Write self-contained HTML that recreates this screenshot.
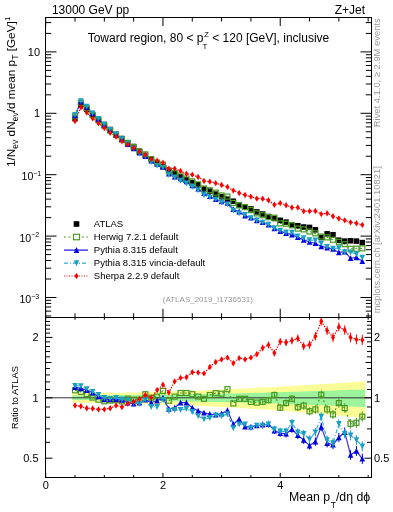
<!DOCTYPE html><html><head><meta charset="utf-8"><style>svg{will-change:transform} html,body{margin:0;padding:0;background:#fff;width:393px;height:512px;overflow:hidden;position:relative}</style></head><body><svg width="393" height="512" viewBox="0 0 393 512" style="position:absolute;left:0;top:0">
<rect width="393" height="512" fill="#fff"/>
<polygon fill="#fdfd98" points="72.08,393.27 77.95,393.27 77.95,393.22 83.81,393.22 83.81,393.17 89.67,393.17 89.67,393.10 95.54,393.10 95.54,393.03 101.40,393.03 101.40,392.94 107.26,392.94 107.26,392.85 113.12,392.85 113.12,392.75 118.99,392.75 118.99,392.64 124.85,392.64 124.85,392.53 130.71,392.53 130.71,392.40 136.58,392.40 136.58,392.27 142.44,392.27 142.44,392.12 148.30,392.12 148.30,391.97 154.17,391.97 154.17,391.81 160.03,391.81 160.03,391.64 165.89,391.64 165.89,391.47 171.75,391.47 171.75,391.28 177.62,391.28 177.62,391.09 183.48,391.09 183.48,390.89 189.34,390.89 189.34,390.68 195.21,390.68 195.21,390.46 201.07,390.46 201.07,390.24 206.93,390.24 206.93,390.01 212.80,390.01 212.80,389.77 218.66,389.77 218.66,389.52 224.52,389.52 224.52,389.26 230.38,389.26 230.38,389.00 236.25,389.00 236.25,388.73 242.11,388.73 242.11,388.45 247.97,388.45 247.97,388.16 253.84,388.16 253.84,387.87 259.70,387.87 259.70,387.57 265.56,387.57 265.56,387.26 271.43,387.26 271.43,386.95 277.29,386.95 277.29,386.63 283.15,386.63 283.15,386.30 289.01,386.30 289.01,385.96 294.88,385.96 294.88,385.62 300.74,385.62 300.74,385.27 306.60,385.27 306.60,384.92 312.47,384.92 312.47,384.56 318.33,384.56 318.33,384.19 324.19,384.19 324.19,383.81 330.06,383.81 330.06,383.43 335.92,383.43 335.92,383.05 341.78,383.05 341.78,382.65 347.64,382.65 347.64,382.25 353.51,382.25 353.51,381.85 359.37,381.85 359.37,381.44 365.23,381.44 365.23,417.96 359.37,417.96 359.37,417.34 353.51,417.34 353.51,416.74 347.64,416.74 347.64,416.15 341.78,416.15 341.78,415.57 335.92,415.57 335.92,415.01 330.06,415.01 330.06,414.47 324.19,414.47 324.19,413.94 318.33,413.94 318.33,413.42 312.47,413.42 312.47,412.92 306.60,412.92 306.60,412.44 300.74,412.44 300.74,411.96 294.88,411.96 294.88,411.50 289.01,411.50 289.01,411.05 283.15,411.05 283.15,410.62 277.29,410.62 277.29,410.20 271.43,410.20 271.43,409.79 265.56,409.79 265.56,409.39 259.70,409.39 259.70,409.01 253.84,409.01 253.84,408.64 247.97,408.64 247.97,408.28 242.11,408.28 242.11,407.93 236.25,407.93 236.25,407.59 230.38,407.59 230.38,407.27 224.52,407.27 224.52,406.95 218.66,406.95 218.66,406.65 212.80,406.65 212.80,406.36 206.93,406.36 206.93,406.08 201.07,406.08 201.07,405.81 195.21,405.81 195.21,405.55 189.34,405.55 189.34,405.31 183.48,405.31 183.48,405.07 177.62,405.07 177.62,404.84 171.75,404.84 171.75,404.63 165.89,404.63 165.89,404.42 160.03,404.42 160.03,404.23 154.17,404.23 154.17,404.05 148.30,404.05 148.30,403.87 142.44,403.87 142.44,403.71 136.58,403.71 136.58,403.56 130.71,403.56 130.71,403.41 124.85,403.41 124.85,403.28 118.99,403.28 118.99,403.16 113.12,403.16 113.12,403.04 107.26,403.04 107.26,402.94 101.40,402.94 101.40,402.85 95.54,402.85 95.54,402.77 89.67,402.77 89.67,402.69 83.81,402.69 83.81,402.63 77.95,402.63 77.95,402.58 72.08,402.58"/>
<polygon fill="#9cf49c" points="72.08,395.59 77.95,395.59 77.95,395.57 83.81,395.57 83.81,395.54 89.67,395.54 89.67,395.51 95.54,395.51 95.54,395.47 101.40,395.47 101.40,395.43 107.26,395.43 107.26,395.38 113.12,395.38 113.12,395.33 118.99,395.33 118.99,395.28 124.85,395.28 124.85,395.22 130.71,395.22 130.71,395.15 136.58,395.15 136.58,395.08 142.44,395.08 142.44,395.01 148.30,395.01 148.30,394.94 154.17,394.94 154.17,394.85 160.03,394.85 160.03,394.77 165.89,394.77 165.89,394.68 171.75,394.68 171.75,394.59 177.62,394.59 177.62,394.49 183.48,394.49 183.48,394.38 189.34,394.38 189.34,394.28 195.21,394.28 195.21,394.17 201.07,394.17 201.07,394.05 206.93,394.05 206.93,393.93 212.80,393.93 212.80,393.81 218.66,393.81 218.66,393.68 224.52,393.68 224.52,393.55 230.38,393.55 230.38,393.41 236.25,393.41 236.25,393.27 242.11,393.27 242.11,393.13 247.97,393.13 247.97,392.98 253.84,392.98 253.84,392.83 259.70,392.83 259.70,392.67 265.56,392.67 265.56,392.51 271.43,392.51 271.43,392.35 277.29,392.35 277.29,392.18 283.15,392.18 283.15,392.01 289.01,392.01 289.01,391.83 294.88,391.83 294.88,391.65 300.74,391.65 300.74,391.47 306.60,391.47 306.60,391.28 312.47,391.28 312.47,391.09 318.33,391.09 318.33,390.90 324.19,390.90 324.19,390.70 330.06,390.70 330.06,390.50 335.92,390.50 335.92,390.29 341.78,390.29 341.78,390.08 347.64,390.08 347.64,389.87 353.51,389.87 353.51,389.65 359.37,389.65 359.37,389.43 365.23,389.43 365.23,407.06 359.37,407.06 359.37,406.79 353.51,406.79 353.51,406.53 347.64,406.53 347.64,406.27 341.78,406.27 341.78,406.02 335.92,406.02 335.92,405.77 330.06,405.77 330.06,405.53 324.19,405.53 324.19,405.30 318.33,405.30 318.33,405.07 312.47,405.07 312.47,404.84 306.60,404.84 306.60,404.63 300.74,404.63 300.74,404.41 294.88,404.41 294.88,404.20 289.01,404.20 289.01,404.00 283.15,404.00 283.15,403.81 277.29,403.81 277.29,403.61 271.43,403.61 271.43,403.43 265.56,403.43 265.56,403.25 259.70,403.25 259.70,403.07 253.84,403.07 253.84,402.90 247.97,402.90 247.97,402.73 242.11,402.73 242.11,402.57 236.25,402.57 236.25,402.42 230.38,402.42 230.38,402.27 224.52,402.27 224.52,402.12 218.66,402.12 218.66,401.98 212.80,401.98 212.80,401.85 206.93,401.85 206.93,401.72 201.07,401.72 201.07,401.59 195.21,401.59 195.21,401.47 189.34,401.47 189.34,401.36 183.48,401.36 183.48,401.24 177.62,401.24 177.62,401.14 171.75,401.14 171.75,401.04 165.89,401.04 165.89,400.94 160.03,400.94 160.03,400.85 154.17,400.85 154.17,400.76 148.30,400.76 148.30,400.68 142.44,400.68 142.44,400.60 136.58,400.60 136.58,400.53 130.71,400.53 130.71,400.46 124.85,400.46 124.85,400.40 118.99,400.40 118.99,400.34 113.12,400.34 113.12,400.29 107.26,400.29 107.26,400.24 101.40,400.24 101.40,400.19 95.54,400.19 95.54,400.16 89.67,400.16 89.67,400.12 83.81,400.12 83.81,400.09 77.95,400.09 77.95,400.06 72.08,400.06"/>
<line x1="45.5" y1="397.8" x2="371.5" y2="397.8" stroke="#333" stroke-width="1"/>
<defs><clipPath id="cm"><rect x="45.5" y="17.5" width="326.0" height="299.8"/></clipPath>
<clipPath id="cr"><rect x="45.5" y="317.2" width="326.0" height="160.2"/></clipPath></defs>
<g clip-path="url(#cr)">
<polyline fill="none" stroke="#4a9a22" stroke-width="1.2" stroke-dasharray="2,2.5" points="75.02,390.30 80.88,391.80 86.74,394.10 92.60,397.60 98.47,399.70 104.33,401.30 110.19,400.60 116.06,400.20 121.92,401.30 127.78,398.70 133.65,399.70 139.51,399.70 145.37,394.20 151.23,397.70 157.10,396.60 162.96,390.90 168.82,400.70 174.69,396.60 180.55,393.00 186.41,393.00 192.28,394.20 198.14,396.60 204.00,398.80 209.86,395.00 215.73,393.20 221.59,393.70 227.45,389.20 233.32,403.40 239.18,398.80 245.04,398.80 250.91,401.90 256.77,402.60 262.63,401.90 268.49,400.10 274.36,395.00 280.22,407.70 286.08,403.10 291.95,398.80 297.81,407.20 303.67,405.60 309.54,411.30 315.40,409.40 321.26,394.70 327.12,409.40 332.99,414.40 338.85,403.10 344.71,408.10 350.58,423.80 356.44,422.80 362.30,416.60"/>
<rect x="72.52" y="387.80" width="5" height="5" fill="none" stroke="#4a9a22" stroke-width="1.2"/>
<rect x="78.38" y="389.30" width="5" height="5" fill="none" stroke="#4a9a22" stroke-width="1.2"/>
<rect x="84.24" y="391.60" width="5" height="5" fill="none" stroke="#4a9a22" stroke-width="1.2"/>
<rect x="90.10" y="395.10" width="5" height="5" fill="none" stroke="#4a9a22" stroke-width="1.2"/>
<rect x="95.97" y="397.20" width="5" height="5" fill="none" stroke="#4a9a22" stroke-width="1.2"/>
<rect x="101.83" y="398.80" width="5" height="5" fill="none" stroke="#4a9a22" stroke-width="1.2"/>
<rect x="107.69" y="398.10" width="5" height="5" fill="none" stroke="#4a9a22" stroke-width="1.2"/>
<rect x="113.56" y="397.70" width="5" height="5" fill="none" stroke="#4a9a22" stroke-width="1.2"/>
<rect x="119.42" y="398.80" width="5" height="5" fill="none" stroke="#4a9a22" stroke-width="1.2"/>
<rect x="125.28" y="396.20" width="5" height="5" fill="none" stroke="#4a9a22" stroke-width="1.2"/>
<rect x="131.15" y="397.20" width="5" height="5" fill="none" stroke="#4a9a22" stroke-width="1.2"/>
<rect x="137.01" y="397.20" width="5" height="5" fill="none" stroke="#4a9a22" stroke-width="1.2"/>
<rect x="142.87" y="391.70" width="5" height="5" fill="none" stroke="#4a9a22" stroke-width="1.2"/>
<rect x="148.73" y="395.20" width="5" height="5" fill="none" stroke="#4a9a22" stroke-width="1.2"/>
<rect x="154.60" y="394.10" width="5" height="5" fill="none" stroke="#4a9a22" stroke-width="1.2"/>
<rect x="160.46" y="388.40" width="5" height="5" fill="none" stroke="#4a9a22" stroke-width="1.2"/>
<rect x="166.32" y="398.20" width="5" height="5" fill="none" stroke="#4a9a22" stroke-width="1.2"/>
<rect x="172.19" y="394.10" width="5" height="5" fill="none" stroke="#4a9a22" stroke-width="1.2"/>
<rect x="178.05" y="390.50" width="5" height="5" fill="none" stroke="#4a9a22" stroke-width="1.2"/>
<rect x="183.91" y="390.50" width="5" height="5" fill="none" stroke="#4a9a22" stroke-width="1.2"/>
<rect x="189.78" y="391.70" width="5" height="5" fill="none" stroke="#4a9a22" stroke-width="1.2"/>
<rect x="195.64" y="394.10" width="5" height="5" fill="none" stroke="#4a9a22" stroke-width="1.2"/>
<rect x="201.50" y="396.30" width="5" height="5" fill="none" stroke="#4a9a22" stroke-width="1.2"/>
<rect x="207.36" y="392.50" width="5" height="5" fill="none" stroke="#4a9a22" stroke-width="1.2"/>
<rect x="213.23" y="390.70" width="5" height="5" fill="none" stroke="#4a9a22" stroke-width="1.2"/>
<rect x="219.09" y="391.20" width="5" height="5" fill="none" stroke="#4a9a22" stroke-width="1.2"/>
<rect x="224.95" y="386.70" width="5" height="5" fill="none" stroke="#4a9a22" stroke-width="1.2"/>
<rect x="230.82" y="400.90" width="5" height="5" fill="none" stroke="#4a9a22" stroke-width="1.2"/>
<rect x="236.68" y="396.30" width="5" height="5" fill="none" stroke="#4a9a22" stroke-width="1.2"/>
<rect x="242.54" y="396.30" width="5" height="5" fill="none" stroke="#4a9a22" stroke-width="1.2"/>
<rect x="248.41" y="399.40" width="5" height="5" fill="none" stroke="#4a9a22" stroke-width="1.2"/>
<rect x="254.27" y="400.10" width="5" height="5" fill="none" stroke="#4a9a22" stroke-width="1.2"/>
<line x1="262.63" y1="398.66" x2="262.63" y2="405.14" stroke="#4a9a22" stroke-width="1"/>
<rect x="260.13" y="399.40" width="5" height="5" fill="none" stroke="#4a9a22" stroke-width="1.2"/>
<line x1="268.49" y1="396.77" x2="268.49" y2="403.43" stroke="#4a9a22" stroke-width="1"/>
<rect x="265.99" y="397.60" width="5" height="5" fill="none" stroke="#4a9a22" stroke-width="1.2"/>
<line x1="274.36" y1="391.57" x2="274.36" y2="398.43" stroke="#4a9a22" stroke-width="1"/>
<rect x="271.86" y="392.50" width="5" height="5" fill="none" stroke="#4a9a22" stroke-width="1.2"/>
<line x1="280.22" y1="404.18" x2="280.22" y2="411.22" stroke="#4a9a22" stroke-width="1"/>
<rect x="277.72" y="405.20" width="5" height="5" fill="none" stroke="#4a9a22" stroke-width="1.2"/>
<line x1="286.08" y1="399.48" x2="286.08" y2="406.72" stroke="#4a9a22" stroke-width="1"/>
<rect x="283.58" y="400.60" width="5" height="5" fill="none" stroke="#4a9a22" stroke-width="1.2"/>
<line x1="291.95" y1="395.08" x2="291.95" y2="402.52" stroke="#4a9a22" stroke-width="1"/>
<rect x="289.45" y="396.30" width="5" height="5" fill="none" stroke="#4a9a22" stroke-width="1.2"/>
<line x1="297.81" y1="403.38" x2="297.81" y2="411.02" stroke="#4a9a22" stroke-width="1"/>
<rect x="295.31" y="404.70" width="5" height="5" fill="none" stroke="#4a9a22" stroke-width="1.2"/>
<line x1="303.67" y1="401.68" x2="303.67" y2="409.52" stroke="#4a9a22" stroke-width="1"/>
<rect x="301.17" y="403.10" width="5" height="5" fill="none" stroke="#4a9a22" stroke-width="1.2"/>
<line x1="309.54" y1="407.27" x2="309.54" y2="415.33" stroke="#4a9a22" stroke-width="1"/>
<rect x="307.04" y="408.80" width="5" height="5" fill="none" stroke="#4a9a22" stroke-width="1.2"/>
<line x1="315.40" y1="405.26" x2="315.40" y2="413.54" stroke="#4a9a22" stroke-width="1"/>
<rect x="312.90" y="406.90" width="5" height="5" fill="none" stroke="#4a9a22" stroke-width="1.2"/>
<line x1="321.26" y1="390.45" x2="321.26" y2="398.95" stroke="#4a9a22" stroke-width="1"/>
<rect x="318.76" y="392.20" width="5" height="5" fill="none" stroke="#4a9a22" stroke-width="1.2"/>
<line x1="327.12" y1="405.04" x2="327.12" y2="413.76" stroke="#4a9a22" stroke-width="1"/>
<rect x="324.62" y="406.90" width="5" height="5" fill="none" stroke="#4a9a22" stroke-width="1.2"/>
<line x1="332.99" y1="409.92" x2="332.99" y2="418.88" stroke="#4a9a22" stroke-width="1"/>
<rect x="330.49" y="411.90" width="5" height="5" fill="none" stroke="#4a9a22" stroke-width="1.2"/>
<line x1="338.85" y1="398.50" x2="338.85" y2="407.70" stroke="#4a9a22" stroke-width="1"/>
<rect x="336.35" y="400.60" width="5" height="5" fill="none" stroke="#4a9a22" stroke-width="1.2"/>
<line x1="344.71" y1="403.38" x2="344.71" y2="412.82" stroke="#4a9a22" stroke-width="1"/>
<rect x="342.21" y="405.60" width="5" height="5" fill="none" stroke="#4a9a22" stroke-width="1.2"/>
<line x1="350.58" y1="418.96" x2="350.58" y2="428.64" stroke="#4a9a22" stroke-width="1"/>
<rect x="348.08" y="421.30" width="5" height="5" fill="none" stroke="#4a9a22" stroke-width="1.2"/>
<line x1="356.44" y1="417.83" x2="356.44" y2="427.77" stroke="#4a9a22" stroke-width="1"/>
<rect x="353.94" y="420.30" width="5" height="5" fill="none" stroke="#4a9a22" stroke-width="1.2"/>
<line x1="362.30" y1="411.50" x2="362.30" y2="421.70" stroke="#4a9a22" stroke-width="1"/>
<rect x="359.80" y="414.10" width="5" height="5" fill="none" stroke="#4a9a22" stroke-width="1.2"/>
<polyline fill="none" stroke="#3333ee" stroke-width="1.2"  points="75.02,387.20 80.88,388.40 86.74,390.30 92.60,392.60 98.47,396.40 104.33,399.40 110.19,399.40 116.06,399.20 121.92,400.00 127.78,402.70 133.65,403.80 139.51,402.70 145.37,399.70 151.23,402.70 157.10,400.70 162.96,397.70 168.82,408.90 174.69,407.80 180.55,402.70 186.41,402.70 192.28,407.80 198.14,410.90 204.00,412.80 209.86,414.10 215.73,414.60 221.59,413.60 227.45,410.30 233.32,424.20 239.18,419.20 245.04,426.80 250.91,426.80 256.77,425.50 262.63,424.80 268.49,424.20 274.36,430.60 280.22,433.10 286.08,433.80 291.95,429.10 297.81,435.30 303.67,440.00 309.54,445.60 315.40,441.60 321.26,426.90 327.12,443.10 332.99,444.70 338.85,437.50 344.71,432.20 350.58,455.00 356.44,450.90 362.30,458.80"/>
<polygon fill="#0000e0" points="75.02,384.10 72.22,390.00 77.81,390.00"/>
<polygon fill="#0000e0" points="80.88,385.30 78.08,391.20 83.68,391.20"/>
<polygon fill="#0000e0" points="86.74,387.20 83.94,393.10 89.54,393.10"/>
<polygon fill="#0000e0" points="92.60,389.50 89.80,395.40 95.40,395.40"/>
<polygon fill="#0000e0" points="98.47,393.30 95.67,399.20 101.27,399.20"/>
<polygon fill="#0000e0" points="104.33,396.30 101.53,402.20 107.13,402.20"/>
<polygon fill="#0000e0" points="110.19,396.30 107.39,402.20 112.99,402.20"/>
<polygon fill="#0000e0" points="116.06,396.10 113.26,402.00 118.86,402.00"/>
<polygon fill="#0000e0" points="121.92,396.90 119.12,402.80 124.72,402.80"/>
<polygon fill="#0000e0" points="127.78,399.60 124.98,405.50 130.58,405.50"/>
<polygon fill="#0000e0" points="133.65,400.70 130.84,406.60 136.45,406.60"/>
<polygon fill="#0000e0" points="139.51,399.60 136.71,405.50 142.31,405.50"/>
<polygon fill="#0000e0" points="145.37,396.60 142.57,402.50 148.17,402.50"/>
<polygon fill="#0000e0" points="151.23,399.60 148.43,405.50 154.03,405.50"/>
<polygon fill="#0000e0" points="157.10,397.60 154.30,403.50 159.90,403.50"/>
<polygon fill="#0000e0" points="162.96,394.60 160.16,400.50 165.76,400.50"/>
<polygon fill="#0000e0" points="168.82,405.80 166.02,411.70 171.62,411.70"/>
<polygon fill="#0000e0" points="174.69,404.70 171.89,410.60 177.49,410.60"/>
<polygon fill="#0000e0" points="180.55,399.60 177.75,405.50 183.35,405.50"/>
<polygon fill="#0000e0" points="186.41,399.60 183.61,405.50 189.21,405.50"/>
<polygon fill="#0000e0" points="192.28,404.70 189.48,410.60 195.08,410.60"/>
<polygon fill="#0000e0" points="198.14,407.80 195.34,413.70 200.94,413.70"/>
<polygon fill="#0000e0" points="204.00,409.70 201.20,415.60 206.80,415.60"/>
<polygon fill="#0000e0" points="209.86,411.00 207.06,416.90 212.66,416.90"/>
<polygon fill="#0000e0" points="215.73,411.50 212.93,417.40 218.53,417.40"/>
<polygon fill="#0000e0" points="221.59,410.50 218.79,416.40 224.39,416.40"/>
<polygon fill="#0000e0" points="227.45,407.20 224.65,413.10 230.25,413.10"/>
<polygon fill="#0000e0" points="233.32,421.10 230.52,427.00 236.12,427.00"/>
<polygon fill="#0000e0" points="239.18,416.10 236.38,422.00 241.98,422.00"/>
<polygon fill="#0000e0" points="245.04,423.70 242.24,429.60 247.84,429.60"/>
<polygon fill="#0000e0" points="250.91,423.70 248.11,429.60 253.71,429.60"/>
<polygon fill="#0000e0" points="256.77,422.40 253.97,428.30 259.57,428.30"/>
<line x1="262.63" y1="421.56" x2="262.63" y2="428.04" stroke="#0000e0" stroke-width="1"/>
<polygon fill="#0000e0" points="262.63,421.70 259.83,427.60 265.43,427.60"/>
<line x1="268.49" y1="420.87" x2="268.49" y2="427.53" stroke="#0000e0" stroke-width="1"/>
<polygon fill="#0000e0" points="268.49,421.10 265.69,427.00 271.29,427.00"/>
<line x1="274.36" y1="427.17" x2="274.36" y2="434.03" stroke="#0000e0" stroke-width="1"/>
<polygon fill="#0000e0" points="274.36,427.50 271.56,433.40 277.16,433.40"/>
<line x1="280.22" y1="429.58" x2="280.22" y2="436.62" stroke="#0000e0" stroke-width="1"/>
<polygon fill="#0000e0" points="280.22,430.00 277.42,435.90 283.02,435.90"/>
<line x1="286.08" y1="430.18" x2="286.08" y2="437.42" stroke="#0000e0" stroke-width="1"/>
<polygon fill="#0000e0" points="286.08,430.70 283.28,436.60 288.88,436.60"/>
<line x1="291.95" y1="425.38" x2="291.95" y2="432.82" stroke="#0000e0" stroke-width="1"/>
<polygon fill="#0000e0" points="291.95,426.00 289.15,431.90 294.75,431.90"/>
<line x1="297.81" y1="431.48" x2="297.81" y2="439.12" stroke="#0000e0" stroke-width="1"/>
<polygon fill="#0000e0" points="297.81,432.20 295.01,438.10 300.61,438.10"/>
<line x1="303.67" y1="436.08" x2="303.67" y2="443.92" stroke="#0000e0" stroke-width="1"/>
<polygon fill="#0000e0" points="303.67,436.90 300.87,442.80 306.47,442.80"/>
<line x1="309.54" y1="441.57" x2="309.54" y2="449.63" stroke="#0000e0" stroke-width="1"/>
<polygon fill="#0000e0" points="309.54,442.50 306.74,448.40 312.34,448.40"/>
<line x1="315.40" y1="437.46" x2="315.40" y2="445.74" stroke="#0000e0" stroke-width="1"/>
<polygon fill="#0000e0" points="315.40,438.50 312.60,444.40 318.20,444.40"/>
<line x1="321.26" y1="422.65" x2="321.26" y2="431.15" stroke="#0000e0" stroke-width="1"/>
<polygon fill="#0000e0" points="321.26,423.80 318.46,429.70 324.06,429.70"/>
<line x1="327.12" y1="438.74" x2="327.12" y2="447.46" stroke="#0000e0" stroke-width="1"/>
<polygon fill="#0000e0" points="327.12,440.00 324.32,445.90 329.92,445.90"/>
<line x1="332.99" y1="440.22" x2="332.99" y2="449.18" stroke="#0000e0" stroke-width="1"/>
<polygon fill="#0000e0" points="332.99,441.60 330.19,447.50 335.79,447.50"/>
<line x1="338.85" y1="432.90" x2="338.85" y2="442.10" stroke="#0000e0" stroke-width="1"/>
<polygon fill="#0000e0" points="338.85,434.40 336.05,440.30 341.65,440.30"/>
<line x1="344.71" y1="427.48" x2="344.71" y2="436.92" stroke="#0000e0" stroke-width="1"/>
<polygon fill="#0000e0" points="344.71,429.10 341.91,435.00 347.51,435.00"/>
<line x1="350.58" y1="450.16" x2="350.58" y2="459.84" stroke="#0000e0" stroke-width="1"/>
<polygon fill="#0000e0" points="350.58,451.90 347.78,457.80 353.38,457.80"/>
<line x1="356.44" y1="445.93" x2="356.44" y2="455.87" stroke="#0000e0" stroke-width="1"/>
<polygon fill="#0000e0" points="356.44,447.80 353.64,453.70 359.24,453.70"/>
<line x1="362.30" y1="453.70" x2="362.30" y2="463.90" stroke="#0000e0" stroke-width="1"/>
<polygon fill="#0000e0" points="362.30,455.70 359.50,461.60 365.10,461.60"/>
<polyline fill="none" stroke="#33aad0" stroke-width="1.2" stroke-dasharray="4,2,1,2" points="75.02,385.70 80.88,386.00 86.74,389.00 92.60,391.80 98.47,394.80 104.33,397.90 110.19,398.70 116.06,397.90 121.92,399.40 127.78,400.20 133.65,402.70 139.51,403.80 145.37,399.70 151.23,406.80 157.10,406.80 162.96,399.70 168.82,410.90 174.69,409.90 180.55,409.90 186.41,408.90 192.28,411.90 198.14,416.00 204.00,419.20 209.86,417.90 215.73,415.30 221.59,416.10 227.45,414.10 233.32,428.10 239.18,424.20 245.04,424.20 250.91,428.10 256.77,425.50 262.63,425.50 268.49,424.20 274.36,429.30 280.22,431.30 286.08,431.30 291.95,422.80 297.81,432.20 303.67,433.80 309.54,439.40 315.40,432.20 321.26,416.60 327.12,440.00 332.99,443.10 338.85,423.80 344.71,433.80 350.58,435.30 356.44,440.00 362.30,446.30"/>
<polygon fill="#1aa0c0" points="75.02,388.80 72.22,382.90 77.81,382.90"/>
<polygon fill="#1aa0c0" points="80.88,389.10 78.08,383.20 83.68,383.20"/>
<polygon fill="#1aa0c0" points="86.74,392.10 83.94,386.20 89.54,386.20"/>
<polygon fill="#1aa0c0" points="92.60,394.90 89.80,389.00 95.40,389.00"/>
<polygon fill="#1aa0c0" points="98.47,397.90 95.67,392.00 101.27,392.00"/>
<polygon fill="#1aa0c0" points="104.33,401.00 101.53,395.10 107.13,395.10"/>
<polygon fill="#1aa0c0" points="110.19,401.80 107.39,395.90 112.99,395.90"/>
<polygon fill="#1aa0c0" points="116.06,401.00 113.26,395.10 118.86,395.10"/>
<polygon fill="#1aa0c0" points="121.92,402.50 119.12,396.60 124.72,396.60"/>
<polygon fill="#1aa0c0" points="127.78,403.30 124.98,397.40 130.58,397.40"/>
<polygon fill="#1aa0c0" points="133.65,405.80 130.84,399.90 136.45,399.90"/>
<polygon fill="#1aa0c0" points="139.51,406.90 136.71,401.00 142.31,401.00"/>
<polygon fill="#1aa0c0" points="145.37,402.80 142.57,396.90 148.17,396.90"/>
<polygon fill="#1aa0c0" points="151.23,409.90 148.43,404.00 154.03,404.00"/>
<polygon fill="#1aa0c0" points="157.10,409.90 154.30,404.00 159.90,404.00"/>
<polygon fill="#1aa0c0" points="162.96,402.80 160.16,396.90 165.76,396.90"/>
<polygon fill="#1aa0c0" points="168.82,414.00 166.02,408.10 171.62,408.10"/>
<polygon fill="#1aa0c0" points="174.69,413.00 171.89,407.10 177.49,407.10"/>
<polygon fill="#1aa0c0" points="180.55,413.00 177.75,407.10 183.35,407.10"/>
<polygon fill="#1aa0c0" points="186.41,412.00 183.61,406.10 189.21,406.10"/>
<polygon fill="#1aa0c0" points="192.28,415.00 189.48,409.10 195.08,409.10"/>
<polygon fill="#1aa0c0" points="198.14,419.10 195.34,413.20 200.94,413.20"/>
<polygon fill="#1aa0c0" points="204.00,422.30 201.20,416.40 206.80,416.40"/>
<polygon fill="#1aa0c0" points="209.86,421.00 207.06,415.10 212.66,415.10"/>
<polygon fill="#1aa0c0" points="215.73,418.40 212.93,412.50 218.53,412.50"/>
<polygon fill="#1aa0c0" points="221.59,419.20 218.79,413.30 224.39,413.30"/>
<polygon fill="#1aa0c0" points="227.45,417.20 224.65,411.30 230.25,411.30"/>
<polygon fill="#1aa0c0" points="233.32,431.20 230.52,425.30 236.12,425.30"/>
<polygon fill="#1aa0c0" points="239.18,427.30 236.38,421.40 241.98,421.40"/>
<polygon fill="#1aa0c0" points="245.04,427.30 242.24,421.40 247.84,421.40"/>
<polygon fill="#1aa0c0" points="250.91,431.20 248.11,425.30 253.71,425.30"/>
<polygon fill="#1aa0c0" points="256.77,428.60 253.97,422.70 259.57,422.70"/>
<line x1="262.63" y1="422.26" x2="262.63" y2="428.74" stroke="#1aa0c0" stroke-width="1"/>
<polygon fill="#1aa0c0" points="262.63,428.60 259.83,422.70 265.43,422.70"/>
<line x1="268.49" y1="420.87" x2="268.49" y2="427.53" stroke="#1aa0c0" stroke-width="1"/>
<polygon fill="#1aa0c0" points="268.49,427.30 265.69,421.40 271.29,421.40"/>
<line x1="274.36" y1="425.87" x2="274.36" y2="432.73" stroke="#1aa0c0" stroke-width="1"/>
<polygon fill="#1aa0c0" points="274.36,432.40 271.56,426.50 277.16,426.50"/>
<line x1="280.22" y1="427.78" x2="280.22" y2="434.82" stroke="#1aa0c0" stroke-width="1"/>
<polygon fill="#1aa0c0" points="280.22,434.40 277.42,428.50 283.02,428.50"/>
<line x1="286.08" y1="427.68" x2="286.08" y2="434.92" stroke="#1aa0c0" stroke-width="1"/>
<polygon fill="#1aa0c0" points="286.08,434.40 283.28,428.50 288.88,428.50"/>
<line x1="291.95" y1="419.08" x2="291.95" y2="426.52" stroke="#1aa0c0" stroke-width="1"/>
<polygon fill="#1aa0c0" points="291.95,425.90 289.15,420.00 294.75,420.00"/>
<line x1="297.81" y1="428.38" x2="297.81" y2="436.02" stroke="#1aa0c0" stroke-width="1"/>
<polygon fill="#1aa0c0" points="297.81,435.30 295.01,429.40 300.61,429.40"/>
<line x1="303.67" y1="429.88" x2="303.67" y2="437.72" stroke="#1aa0c0" stroke-width="1"/>
<polygon fill="#1aa0c0" points="303.67,436.90 300.87,431.00 306.47,431.00"/>
<line x1="309.54" y1="435.37" x2="309.54" y2="443.43" stroke="#1aa0c0" stroke-width="1"/>
<polygon fill="#1aa0c0" points="309.54,442.50 306.74,436.60 312.34,436.60"/>
<line x1="315.40" y1="428.06" x2="315.40" y2="436.34" stroke="#1aa0c0" stroke-width="1"/>
<polygon fill="#1aa0c0" points="315.40,435.30 312.60,429.40 318.20,429.40"/>
<line x1="321.26" y1="412.35" x2="321.26" y2="420.85" stroke="#1aa0c0" stroke-width="1"/>
<polygon fill="#1aa0c0" points="321.26,419.70 318.46,413.80 324.06,413.80"/>
<line x1="327.12" y1="435.64" x2="327.12" y2="444.36" stroke="#1aa0c0" stroke-width="1"/>
<polygon fill="#1aa0c0" points="327.12,443.10 324.32,437.20 329.92,437.20"/>
<line x1="332.99" y1="438.62" x2="332.99" y2="447.58" stroke="#1aa0c0" stroke-width="1"/>
<polygon fill="#1aa0c0" points="332.99,446.20 330.19,440.30 335.79,440.30"/>
<line x1="338.85" y1="419.20" x2="338.85" y2="428.40" stroke="#1aa0c0" stroke-width="1"/>
<polygon fill="#1aa0c0" points="338.85,426.90 336.05,421.00 341.65,421.00"/>
<line x1="344.71" y1="429.08" x2="344.71" y2="438.52" stroke="#1aa0c0" stroke-width="1"/>
<polygon fill="#1aa0c0" points="344.71,436.90 341.91,431.00 347.51,431.00"/>
<line x1="350.58" y1="430.46" x2="350.58" y2="440.14" stroke="#1aa0c0" stroke-width="1"/>
<polygon fill="#1aa0c0" points="350.58,438.40 347.78,432.50 353.38,432.50"/>
<line x1="356.44" y1="435.03" x2="356.44" y2="444.97" stroke="#1aa0c0" stroke-width="1"/>
<polygon fill="#1aa0c0" points="356.44,443.10 353.64,437.20 359.24,437.20"/>
<line x1="362.30" y1="441.20" x2="362.30" y2="451.40" stroke="#1aa0c0" stroke-width="1"/>
<polygon fill="#1aa0c0" points="362.30,449.40 359.50,443.50 365.10,443.50"/>
<polyline fill="none" stroke="#ff0000" stroke-width="1.2" stroke-dasharray="1.5,1.2" points="75.02,405.50 80.88,406.30 86.74,408.30 92.60,408.60 98.47,409.40 104.33,409.40 110.19,408.30 116.06,405.50 121.92,407.00 127.78,403.80 133.65,401.70 139.51,399.10 145.37,395.00 151.23,397.70 157.10,390.10 162.96,384.80 168.82,392.60 174.69,381.40 180.55,377.90 186.41,377.30 192.28,372.20 198.14,372.60 204.00,373.40 209.86,367.00 215.73,362.00 221.59,359.40 227.45,357.60 233.32,363.20 239.18,358.10 245.04,359.40 250.91,357.60 256.77,354.30 262.63,348.00 268.49,344.90 274.36,353.10 280.22,341.60 286.08,342.50 291.95,340.60 297.81,338.40 303.67,346.30 309.54,344.70 315.40,336.30 321.26,321.30 327.12,330.60 332.99,337.50 338.85,326.90 344.71,330.00 350.58,337.50 356.44,339.40 362.30,340.00"/>
<polygon fill="#ff0000" points="75.02,402.30 77.02,405.50 75.02,408.70 73.02,405.50"/>
<polygon fill="#ff0000" points="80.88,403.10 82.88,406.30 80.88,409.50 78.88,406.30"/>
<polygon fill="#ff0000" points="86.74,405.10 88.74,408.30 86.74,411.50 84.74,408.30"/>
<polygon fill="#ff0000" points="92.60,405.40 94.60,408.60 92.60,411.80 90.60,408.60"/>
<polygon fill="#ff0000" points="98.47,406.20 100.47,409.40 98.47,412.60 96.47,409.40"/>
<polygon fill="#ff0000" points="104.33,406.20 106.33,409.40 104.33,412.60 102.33,409.40"/>
<polygon fill="#ff0000" points="110.19,405.10 112.19,408.30 110.19,411.50 108.19,408.30"/>
<polygon fill="#ff0000" points="116.06,402.30 118.06,405.50 116.06,408.70 114.06,405.50"/>
<polygon fill="#ff0000" points="121.92,403.80 123.92,407.00 121.92,410.20 119.92,407.00"/>
<polygon fill="#ff0000" points="127.78,400.60 129.78,403.80 127.78,407.00 125.78,403.80"/>
<polygon fill="#ff0000" points="133.65,398.50 135.65,401.70 133.65,404.90 131.65,401.70"/>
<polygon fill="#ff0000" points="139.51,395.90 141.51,399.10 139.51,402.30 137.51,399.10"/>
<polygon fill="#ff0000" points="145.37,391.80 147.37,395.00 145.37,398.20 143.37,395.00"/>
<polygon fill="#ff0000" points="151.23,394.50 153.23,397.70 151.23,400.90 149.23,397.70"/>
<polygon fill="#ff0000" points="157.10,386.90 159.10,390.10 157.10,393.30 155.10,390.10"/>
<polygon fill="#ff0000" points="162.96,381.60 164.96,384.80 162.96,388.00 160.96,384.80"/>
<polygon fill="#ff0000" points="168.82,389.40 170.82,392.60 168.82,395.80 166.82,392.60"/>
<polygon fill="#ff0000" points="174.69,378.20 176.69,381.40 174.69,384.60 172.69,381.40"/>
<polygon fill="#ff0000" points="180.55,374.70 182.55,377.90 180.55,381.10 178.55,377.90"/>
<polygon fill="#ff0000" points="186.41,374.10 188.41,377.30 186.41,380.50 184.41,377.30"/>
<polygon fill="#ff0000" points="192.28,369.00 194.28,372.20 192.28,375.40 190.28,372.20"/>
<polygon fill="#ff0000" points="198.14,369.40 200.14,372.60 198.14,375.80 196.14,372.60"/>
<polygon fill="#ff0000" points="204.00,370.20 206.00,373.40 204.00,376.60 202.00,373.40"/>
<polygon fill="#ff0000" points="209.86,363.80 211.86,367.00 209.86,370.20 207.86,367.00"/>
<polygon fill="#ff0000" points="215.73,358.80 217.73,362.00 215.73,365.20 213.73,362.00"/>
<polygon fill="#ff0000" points="221.59,356.20 223.59,359.40 221.59,362.60 219.59,359.40"/>
<polygon fill="#ff0000" points="227.45,354.40 229.45,357.60 227.45,360.80 225.45,357.60"/>
<polygon fill="#ff0000" points="233.32,360.00 235.32,363.20 233.32,366.40 231.32,363.20"/>
<polygon fill="#ff0000" points="239.18,354.90 241.18,358.10 239.18,361.30 237.18,358.10"/>
<polygon fill="#ff0000" points="245.04,356.20 247.04,359.40 245.04,362.60 243.04,359.40"/>
<polygon fill="#ff0000" points="250.91,354.40 252.91,357.60 250.91,360.80 248.91,357.60"/>
<polygon fill="#ff0000" points="256.77,351.10 258.77,354.30 256.77,357.50 254.77,354.30"/>
<line x1="262.63" y1="344.76" x2="262.63" y2="351.24" stroke="#ff0000" stroke-width="1"/>
<polygon fill="#ff0000" points="262.63,344.80 264.63,348.00 262.63,351.20 260.63,348.00"/>
<line x1="268.49" y1="341.57" x2="268.49" y2="348.23" stroke="#ff0000" stroke-width="1"/>
<polygon fill="#ff0000" points="268.49,341.70 270.49,344.90 268.49,348.10 266.49,344.90"/>
<line x1="274.36" y1="349.67" x2="274.36" y2="356.53" stroke="#ff0000" stroke-width="1"/>
<polygon fill="#ff0000" points="274.36,349.90 276.36,353.10 274.36,356.30 272.36,353.10"/>
<line x1="280.22" y1="338.08" x2="280.22" y2="345.12" stroke="#ff0000" stroke-width="1"/>
<polygon fill="#ff0000" points="280.22,338.40 282.22,341.60 280.22,344.80 278.22,341.60"/>
<line x1="286.08" y1="338.88" x2="286.08" y2="346.12" stroke="#ff0000" stroke-width="1"/>
<polygon fill="#ff0000" points="286.08,339.30 288.08,342.50 286.08,345.70 284.08,342.50"/>
<line x1="291.95" y1="336.88" x2="291.95" y2="344.32" stroke="#ff0000" stroke-width="1"/>
<polygon fill="#ff0000" points="291.95,337.40 293.95,340.60 291.95,343.80 289.95,340.60"/>
<line x1="297.81" y1="334.58" x2="297.81" y2="342.22" stroke="#ff0000" stroke-width="1"/>
<polygon fill="#ff0000" points="297.81,335.20 299.81,338.40 297.81,341.60 295.81,338.40"/>
<line x1="303.67" y1="342.38" x2="303.67" y2="350.22" stroke="#ff0000" stroke-width="1"/>
<polygon fill="#ff0000" points="303.67,343.10 305.67,346.30 303.67,349.50 301.67,346.30"/>
<line x1="309.54" y1="340.67" x2="309.54" y2="348.73" stroke="#ff0000" stroke-width="1"/>
<polygon fill="#ff0000" points="309.54,341.50 311.54,344.70 309.54,347.90 307.54,344.70"/>
<line x1="315.40" y1="332.16" x2="315.40" y2="340.44" stroke="#ff0000" stroke-width="1"/>
<polygon fill="#ff0000" points="315.40,333.10 317.40,336.30 315.40,339.50 313.40,336.30"/>
<line x1="321.26" y1="317.05" x2="321.26" y2="325.55" stroke="#ff0000" stroke-width="1"/>
<polygon fill="#ff0000" points="321.26,318.10 323.26,321.30 321.26,324.50 319.26,321.30"/>
<line x1="327.12" y1="326.24" x2="327.12" y2="334.96" stroke="#ff0000" stroke-width="1"/>
<polygon fill="#ff0000" points="327.12,327.40 329.12,330.60 327.12,333.80 325.12,330.60"/>
<line x1="332.99" y1="333.02" x2="332.99" y2="341.98" stroke="#ff0000" stroke-width="1"/>
<polygon fill="#ff0000" points="332.99,334.30 334.99,337.50 332.99,340.70 330.99,337.50"/>
<line x1="338.85" y1="322.30" x2="338.85" y2="331.50" stroke="#ff0000" stroke-width="1"/>
<polygon fill="#ff0000" points="338.85,323.70 340.85,326.90 338.85,330.10 336.85,326.90"/>
<line x1="344.71" y1="325.28" x2="344.71" y2="334.72" stroke="#ff0000" stroke-width="1"/>
<polygon fill="#ff0000" points="344.71,326.80 346.71,330.00 344.71,333.20 342.71,330.00"/>
<line x1="350.58" y1="332.66" x2="350.58" y2="342.34" stroke="#ff0000" stroke-width="1"/>
<polygon fill="#ff0000" points="350.58,334.30 352.58,337.50 350.58,340.70 348.58,337.50"/>
<line x1="356.44" y1="334.43" x2="356.44" y2="344.37" stroke="#ff0000" stroke-width="1"/>
<polygon fill="#ff0000" points="356.44,336.20 358.44,339.40 356.44,342.60 354.44,339.40"/>
<line x1="362.30" y1="334.90" x2="362.30" y2="345.10" stroke="#ff0000" stroke-width="1"/>
<polygon fill="#ff0000" points="362.30,336.80 364.30,340.00 362.30,343.20 360.30,340.00"/>
</g>
<g clip-path="url(#cm)">
<polyline fill="none" stroke="#4a9a22" stroke-width="1.2" stroke-dasharray="2,2.5" points="75.02,116.30 80.88,102.76 86.74,108.17 92.60,115.04 98.47,120.28 104.33,125.57 110.19,130.36 116.06,135.03 121.92,139.57 127.78,142.98 133.65,147.08 139.51,151.78 145.37,154.40 151.23,159.17 157.10,162.63 162.96,164.69 168.82,171.19 174.69,173.23 180.55,175.53 186.41,178.53 192.28,181.40 198.14,184.33 204.00,188.81 209.86,190.24 215.73,192.69 221.59,195.45 227.45,196.57 233.32,202.91 239.18,205.41 245.04,207.11 250.91,210.15 256.77,213.37 262.63,215.25 268.49,217.20 274.36,217.64 280.22,223.33 286.08,223.72 291.95,225.31 297.81,228.58 303.67,229.39 309.54,231.53 315.40,233.35 321.26,236.55 327.12,237.35 332.99,239.78 338.85,241.82 344.71,244.25 350.58,248.76 356.44,248.75 362.30,248.35"/>
<polyline fill="none" stroke="#3333ee" stroke-width="1.2"  points="75.02,115.36 80.88,101.72 86.74,107.00 92.60,113.51 98.47,119.27 104.33,124.99 110.19,129.99 116.06,134.73 121.92,139.17 127.78,144.20 133.65,148.34 139.51,152.70 145.37,156.08 151.23,160.70 157.10,163.89 162.96,166.77 168.82,173.70 174.69,176.66 180.55,178.50 186.41,181.50 192.28,185.56 198.14,188.71 204.00,193.09 209.86,196.09 215.73,199.24 221.59,201.54 227.45,203.03 233.32,209.28 239.18,211.65 245.04,215.67 250.91,217.77 256.77,220.38 262.63,222.26 268.49,224.58 274.36,228.54 280.22,231.10 286.08,233.12 291.95,234.58 297.81,237.18 303.67,239.91 309.54,242.03 315.40,243.20 321.26,246.41 327.12,247.66 332.99,249.05 338.85,252.35 344.71,251.63 350.58,258.30 356.44,257.35 362.30,261.27"/>
<polyline fill="none" stroke="#33aad0" stroke-width="1.2" stroke-dasharray="4,2,1,2" points="75.02,114.90 80.88,100.99 86.74,106.61 92.60,113.26 98.47,118.78 104.33,124.53 110.19,129.78 116.06,134.33 121.92,138.99 127.78,143.43 133.65,148.00 139.51,153.04 145.37,156.08 151.23,161.95 157.10,165.75 162.96,167.38 168.82,174.31 174.69,177.30 180.55,180.70 186.41,183.40 192.28,186.81 198.14,190.27 204.00,195.05 209.86,197.25 215.73,199.46 221.59,202.30 227.45,204.19 233.32,210.47 239.18,213.18 245.04,214.88 250.91,218.17 256.77,220.38 262.63,222.48 268.49,224.58 274.36,228.14 280.22,230.55 286.08,232.35 291.95,232.65 297.81,236.23 303.67,238.02 309.54,240.13 315.40,240.33 321.26,243.25 327.12,246.71 332.99,248.56 338.85,248.16 344.71,252.12 350.58,252.28 356.44,254.01 362.30,257.44"/>
<polyline fill="none" stroke="#ff0000" stroke-width="1.2" stroke-dasharray="1.5,1.2" points="75.02,120.96 80.88,107.20 86.74,112.51 92.60,118.40 98.47,123.25 104.33,128.05 110.19,132.71 116.06,136.66 121.92,141.32 127.78,144.54 133.65,147.69 139.51,151.60 145.37,154.64 151.23,159.17 157.10,160.64 162.96,162.82 168.82,168.71 174.69,168.58 180.55,170.91 186.41,173.73 192.28,174.67 198.14,176.99 204.00,181.03 209.86,181.67 215.73,183.14 221.59,184.95 227.45,186.90 233.32,190.61 239.18,192.95 245.04,195.05 250.91,196.60 256.77,198.59 262.63,198.76 268.49,200.31 274.36,204.82 280.22,203.10 286.08,205.18 291.95,207.50 297.81,207.52 303.67,211.24 309.54,211.15 315.40,210.98 321.26,214.09 327.12,213.24 332.99,216.25 338.85,218.50 344.71,220.35 350.58,222.35 356.44,223.23 362.30,224.91"/>
<rect x="72.27" y="115.85" width="5.5" height="5.5" fill="#000"/>
<rect x="78.13" y="101.85" width="5.5" height="5.5" fill="#000"/>
<rect x="83.99" y="106.55" width="5.5" height="5.5" fill="#000"/>
<rect x="89.85" y="112.35" width="5.5" height="5.5" fill="#000"/>
<rect x="95.72" y="116.95" width="5.5" height="5.5" fill="#000"/>
<rect x="101.58" y="121.75" width="5.5" height="5.5" fill="#000"/>
<rect x="107.44" y="126.75" width="5.5" height="5.5" fill="#000"/>
<rect x="113.31" y="131.55" width="5.5" height="5.5" fill="#000"/>
<rect x="119.17" y="135.75" width="5.5" height="5.5" fill="#000"/>
<rect x="125.03" y="139.95" width="5.5" height="5.5" fill="#000"/>
<rect x="130.90" y="143.75" width="5.5" height="5.5" fill="#000"/>
<rect x="136.76" y="148.45" width="5.5" height="5.5" fill="#000"/>
<rect x="142.62" y="152.75" width="5.5" height="5.5" fill="#000"/>
<rect x="148.48" y="156.45" width="5.5" height="5.5" fill="#000"/>
<rect x="154.35" y="160.25" width="5.5" height="5.5" fill="#000"/>
<rect x="160.21" y="164.05" width="5.5" height="5.5" fill="#000"/>
<rect x="166.07" y="167.55" width="5.5" height="5.5" fill="#000"/>
<rect x="171.94" y="170.85" width="5.5" height="5.5" fill="#000"/>
<rect x="177.80" y="174.25" width="5.5" height="5.5" fill="#000"/>
<rect x="183.66" y="177.25" width="5.5" height="5.5" fill="#000"/>
<rect x="189.53" y="179.75" width="5.5" height="5.5" fill="#000"/>
<rect x="195.39" y="181.95" width="5.5" height="5.5" fill="#000"/>
<rect x="201.25" y="185.75" width="5.5" height="5.5" fill="#000"/>
<rect x="207.11" y="188.35" width="5.5" height="5.5" fill="#000"/>
<rect x="212.98" y="191.35" width="5.5" height="5.5" fill="#000"/>
<rect x="218.84" y="193.95" width="5.5" height="5.5" fill="#000"/>
<rect x="224.70" y="196.45" width="5.5" height="5.5" fill="#000"/>
<rect x="230.57" y="198.45" width="5.5" height="5.5" fill="#000"/>
<rect x="236.43" y="202.35" width="5.5" height="5.5" fill="#000"/>
<rect x="242.29" y="204.05" width="5.5" height="5.5" fill="#000"/>
<rect x="248.16" y="206.15" width="5.5" height="5.5" fill="#000"/>
<rect x="254.02" y="209.15" width="5.5" height="5.5" fill="#000"/>
<rect x="259.88" y="211.25" width="5.5" height="5.5" fill="#000"/>
<rect x="265.74" y="213.75" width="5.5" height="5.5" fill="#000"/>
<rect x="271.61" y="215.75" width="5.5" height="5.5" fill="#000"/>
<rect x="277.47" y="217.55" width="5.5" height="5.5" fill="#000"/>
<rect x="283.33" y="219.35" width="5.5" height="5.5" fill="#000"/>
<rect x="289.20" y="222.25" width="5.5" height="5.5" fill="#000"/>
<rect x="295.06" y="222.95" width="5.5" height="5.5" fill="#000"/>
<rect x="300.92" y="224.25" width="5.5" height="5.5" fill="#000"/>
<rect x="306.79" y="224.65" width="5.5" height="5.5" fill="#000"/>
<rect x="312.65" y="227.05" width="5.5" height="5.5" fill="#000"/>
<rect x="318.51" y="234.75" width="5.5" height="5.5" fill="#000"/>
<rect x="324.37" y="231.05" width="5.5" height="5.5" fill="#000"/>
<rect x="330.24" y="231.95" width="5.5" height="5.5" fill="#000"/>
<rect x="336.10" y="237.45" width="5.5" height="5.5" fill="#000"/>
<rect x="341.96" y="238.35" width="5.5" height="5.5" fill="#000"/>
<rect x="347.83" y="238.05" width="5.5" height="5.5" fill="#000"/>
<rect x="353.69" y="238.35" width="5.5" height="5.5" fill="#000"/>
<rect x="359.55" y="239.85" width="5.5" height="5.5" fill="#000"/>
<rect x="72.52" y="113.80" width="5" height="5" fill="none" stroke="#4a9a22" stroke-width="1.2"/>
<rect x="78.38" y="100.26" width="5" height="5" fill="none" stroke="#4a9a22" stroke-width="1.2"/>
<rect x="84.24" y="105.67" width="5" height="5" fill="none" stroke="#4a9a22" stroke-width="1.2"/>
<rect x="90.10" y="112.54" width="5" height="5" fill="none" stroke="#4a9a22" stroke-width="1.2"/>
<rect x="95.97" y="117.78" width="5" height="5" fill="none" stroke="#4a9a22" stroke-width="1.2"/>
<rect x="101.83" y="123.07" width="5" height="5" fill="none" stroke="#4a9a22" stroke-width="1.2"/>
<rect x="107.69" y="127.86" width="5" height="5" fill="none" stroke="#4a9a22" stroke-width="1.2"/>
<rect x="113.56" y="132.53" width="5" height="5" fill="none" stroke="#4a9a22" stroke-width="1.2"/>
<rect x="119.42" y="137.07" width="5" height="5" fill="none" stroke="#4a9a22" stroke-width="1.2"/>
<rect x="125.28" y="140.48" width="5" height="5" fill="none" stroke="#4a9a22" stroke-width="1.2"/>
<rect x="131.15" y="144.58" width="5" height="5" fill="none" stroke="#4a9a22" stroke-width="1.2"/>
<rect x="137.01" y="149.28" width="5" height="5" fill="none" stroke="#4a9a22" stroke-width="1.2"/>
<rect x="142.87" y="151.90" width="5" height="5" fill="none" stroke="#4a9a22" stroke-width="1.2"/>
<rect x="148.73" y="156.67" width="5" height="5" fill="none" stroke="#4a9a22" stroke-width="1.2"/>
<rect x="154.60" y="160.13" width="5" height="5" fill="none" stroke="#4a9a22" stroke-width="1.2"/>
<rect x="160.46" y="162.19" width="5" height="5" fill="none" stroke="#4a9a22" stroke-width="1.2"/>
<rect x="166.32" y="168.69" width="5" height="5" fill="none" stroke="#4a9a22" stroke-width="1.2"/>
<rect x="172.19" y="170.73" width="5" height="5" fill="none" stroke="#4a9a22" stroke-width="1.2"/>
<rect x="178.05" y="173.03" width="5" height="5" fill="none" stroke="#4a9a22" stroke-width="1.2"/>
<rect x="183.91" y="176.03" width="5" height="5" fill="none" stroke="#4a9a22" stroke-width="1.2"/>
<rect x="189.78" y="178.90" width="5" height="5" fill="none" stroke="#4a9a22" stroke-width="1.2"/>
<rect x="195.64" y="181.83" width="5" height="5" fill="none" stroke="#4a9a22" stroke-width="1.2"/>
<rect x="201.50" y="186.31" width="5" height="5" fill="none" stroke="#4a9a22" stroke-width="1.2"/>
<rect x="207.36" y="187.74" width="5" height="5" fill="none" stroke="#4a9a22" stroke-width="1.2"/>
<rect x="213.23" y="190.19" width="5" height="5" fill="none" stroke="#4a9a22" stroke-width="1.2"/>
<rect x="219.09" y="192.95" width="5" height="5" fill="none" stroke="#4a9a22" stroke-width="1.2"/>
<rect x="224.95" y="194.07" width="5" height="5" fill="none" stroke="#4a9a22" stroke-width="1.2"/>
<rect x="230.82" y="200.41" width="5" height="5" fill="none" stroke="#4a9a22" stroke-width="1.2"/>
<rect x="236.68" y="202.91" width="5" height="5" fill="none" stroke="#4a9a22" stroke-width="1.2"/>
<rect x="242.54" y="204.61" width="5" height="5" fill="none" stroke="#4a9a22" stroke-width="1.2"/>
<rect x="248.41" y="207.65" width="5" height="5" fill="none" stroke="#4a9a22" stroke-width="1.2"/>
<rect x="254.27" y="210.87" width="5" height="5" fill="none" stroke="#4a9a22" stroke-width="1.2"/>
<rect x="260.13" y="212.75" width="5" height="5" fill="none" stroke="#4a9a22" stroke-width="1.2"/>
<rect x="265.99" y="214.70" width="5" height="5" fill="none" stroke="#4a9a22" stroke-width="1.2"/>
<rect x="271.86" y="215.14" width="5" height="5" fill="none" stroke="#4a9a22" stroke-width="1.2"/>
<rect x="277.72" y="220.83" width="5" height="5" fill="none" stroke="#4a9a22" stroke-width="1.2"/>
<rect x="283.58" y="221.22" width="5" height="5" fill="none" stroke="#4a9a22" stroke-width="1.2"/>
<rect x="289.45" y="222.81" width="5" height="5" fill="none" stroke="#4a9a22" stroke-width="1.2"/>
<rect x="295.31" y="226.08" width="5" height="5" fill="none" stroke="#4a9a22" stroke-width="1.2"/>
<rect x="301.17" y="226.89" width="5" height="5" fill="none" stroke="#4a9a22" stroke-width="1.2"/>
<rect x="307.04" y="229.03" width="5" height="5" fill="none" stroke="#4a9a22" stroke-width="1.2"/>
<rect x="312.90" y="230.85" width="5" height="5" fill="none" stroke="#4a9a22" stroke-width="1.2"/>
<rect x="318.76" y="234.05" width="5" height="5" fill="none" stroke="#4a9a22" stroke-width="1.2"/>
<rect x="324.62" y="234.85" width="5" height="5" fill="none" stroke="#4a9a22" stroke-width="1.2"/>
<rect x="330.49" y="237.28" width="5" height="5" fill="none" stroke="#4a9a22" stroke-width="1.2"/>
<rect x="336.35" y="239.32" width="5" height="5" fill="none" stroke="#4a9a22" stroke-width="1.2"/>
<rect x="342.21" y="241.75" width="5" height="5" fill="none" stroke="#4a9a22" stroke-width="1.2"/>
<rect x="348.08" y="246.26" width="5" height="5" fill="none" stroke="#4a9a22" stroke-width="1.2"/>
<rect x="353.94" y="246.25" width="5" height="5" fill="none" stroke="#4a9a22" stroke-width="1.2"/>
<rect x="359.80" y="245.85" width="5" height="5" fill="none" stroke="#4a9a22" stroke-width="1.2"/>
<polygon fill="#0000e0" points="75.02,112.26 72.22,118.16 77.81,118.16"/>
<polygon fill="#0000e0" points="80.88,98.62 78.08,104.52 83.68,104.52"/>
<polygon fill="#0000e0" points="86.74,103.90 83.94,109.80 89.54,109.80"/>
<polygon fill="#0000e0" points="92.60,110.41 89.80,116.31 95.40,116.31"/>
<polygon fill="#0000e0" points="98.47,116.17 95.67,122.07 101.27,122.07"/>
<polygon fill="#0000e0" points="104.33,121.89 101.53,127.79 107.13,127.79"/>
<polygon fill="#0000e0" points="110.19,126.89 107.39,132.79 112.99,132.79"/>
<polygon fill="#0000e0" points="116.06,131.63 113.26,137.53 118.86,137.53"/>
<polygon fill="#0000e0" points="121.92,136.07 119.12,141.97 124.72,141.97"/>
<polygon fill="#0000e0" points="127.78,141.10 124.98,147.00 130.58,147.00"/>
<polygon fill="#0000e0" points="133.65,145.24 130.84,151.14 136.45,151.14"/>
<polygon fill="#0000e0" points="139.51,149.60 136.71,155.50 142.31,155.50"/>
<polygon fill="#0000e0" points="145.37,152.98 142.57,158.88 148.17,158.88"/>
<polygon fill="#0000e0" points="151.23,157.60 148.43,163.50 154.03,163.50"/>
<polygon fill="#0000e0" points="157.10,160.79 154.30,166.69 159.90,166.69"/>
<polygon fill="#0000e0" points="162.96,163.67 160.16,169.57 165.76,169.57"/>
<polygon fill="#0000e0" points="168.82,170.60 166.02,176.50 171.62,176.50"/>
<polygon fill="#0000e0" points="174.69,173.56 171.89,179.46 177.49,179.46"/>
<polygon fill="#0000e0" points="180.55,175.40 177.75,181.30 183.35,181.30"/>
<polygon fill="#0000e0" points="186.41,178.40 183.61,184.30 189.21,184.30"/>
<polygon fill="#0000e0" points="192.28,182.46 189.48,188.36 195.08,188.36"/>
<polygon fill="#0000e0" points="198.14,185.61 195.34,191.51 200.94,191.51"/>
<polygon fill="#0000e0" points="204.00,189.99 201.20,195.89 206.80,195.89"/>
<polygon fill="#0000e0" points="209.86,192.99 207.06,198.89 212.66,198.89"/>
<polygon fill="#0000e0" points="215.73,196.14 212.93,202.04 218.53,202.04"/>
<polygon fill="#0000e0" points="221.59,198.44 218.79,204.34 224.39,204.34"/>
<polygon fill="#0000e0" points="227.45,199.93 224.65,205.83 230.25,205.83"/>
<polygon fill="#0000e0" points="233.32,206.18 230.52,212.08 236.12,212.08"/>
<polygon fill="#0000e0" points="239.18,208.55 236.38,214.45 241.98,214.45"/>
<polygon fill="#0000e0" points="245.04,212.57 242.24,218.47 247.84,218.47"/>
<polygon fill="#0000e0" points="250.91,214.67 248.11,220.57 253.71,220.57"/>
<polygon fill="#0000e0" points="256.77,217.28 253.97,223.18 259.57,223.18"/>
<polygon fill="#0000e0" points="262.63,219.16 259.83,225.06 265.43,225.06"/>
<polygon fill="#0000e0" points="268.49,221.48 265.69,227.38 271.29,227.38"/>
<polygon fill="#0000e0" points="274.36,225.44 271.56,231.34 277.16,231.34"/>
<polygon fill="#0000e0" points="280.22,228.00 277.42,233.90 283.02,233.90"/>
<polygon fill="#0000e0" points="286.08,230.02 283.28,235.92 288.88,235.92"/>
<polygon fill="#0000e0" points="291.95,231.48 289.15,237.38 294.75,237.38"/>
<polygon fill="#0000e0" points="297.81,234.08 295.01,239.98 300.61,239.98"/>
<polygon fill="#0000e0" points="303.67,236.81 300.87,242.71 306.47,242.71"/>
<polygon fill="#0000e0" points="309.54,238.93 306.74,244.83 312.34,244.83"/>
<polygon fill="#0000e0" points="315.40,240.10 312.60,246.00 318.20,246.00"/>
<polygon fill="#0000e0" points="321.26,243.31 318.46,249.21 324.06,249.21"/>
<polygon fill="#0000e0" points="327.12,244.56 324.32,250.46 329.92,250.46"/>
<polygon fill="#0000e0" points="332.99,245.95 330.19,251.85 335.79,251.85"/>
<polygon fill="#0000e0" points="338.85,249.25 336.05,255.15 341.65,255.15"/>
<polygon fill="#0000e0" points="344.71,248.53 341.91,254.43 347.51,254.43"/>
<polygon fill="#0000e0" points="350.58,255.20 347.78,261.10 353.38,261.10"/>
<polygon fill="#0000e0" points="356.44,254.25 353.64,260.15 359.24,260.15"/>
<polygon fill="#0000e0" points="362.30,258.17 359.50,264.07 365.10,264.07"/>
<polygon fill="#1aa0c0" points="75.02,118.00 72.22,112.10 77.81,112.10"/>
<polygon fill="#1aa0c0" points="80.88,104.09 78.08,98.19 83.68,98.19"/>
<polygon fill="#1aa0c0" points="86.74,109.71 83.94,103.81 89.54,103.81"/>
<polygon fill="#1aa0c0" points="92.60,116.36 89.80,110.46 95.40,110.46"/>
<polygon fill="#1aa0c0" points="98.47,121.88 95.67,115.98 101.27,115.98"/>
<polygon fill="#1aa0c0" points="104.33,127.63 101.53,121.73 107.13,121.73"/>
<polygon fill="#1aa0c0" points="110.19,132.88 107.39,126.98 112.99,126.98"/>
<polygon fill="#1aa0c0" points="116.06,137.43 113.26,131.53 118.86,131.53"/>
<polygon fill="#1aa0c0" points="121.92,142.09 119.12,136.19 124.72,136.19"/>
<polygon fill="#1aa0c0" points="127.78,146.53 124.98,140.63 130.58,140.63"/>
<polygon fill="#1aa0c0" points="133.65,151.10 130.84,145.20 136.45,145.20"/>
<polygon fill="#1aa0c0" points="139.51,156.14 136.71,150.24 142.31,150.24"/>
<polygon fill="#1aa0c0" points="145.37,159.18 142.57,153.28 148.17,153.28"/>
<polygon fill="#1aa0c0" points="151.23,165.05 148.43,159.15 154.03,159.15"/>
<polygon fill="#1aa0c0" points="157.10,168.85 154.30,162.95 159.90,162.95"/>
<polygon fill="#1aa0c0" points="162.96,170.48 160.16,164.58 165.76,164.58"/>
<polygon fill="#1aa0c0" points="168.82,177.41 166.02,171.51 171.62,171.51"/>
<polygon fill="#1aa0c0" points="174.69,180.40 171.89,174.50 177.49,174.50"/>
<polygon fill="#1aa0c0" points="180.55,183.80 177.75,177.90 183.35,177.90"/>
<polygon fill="#1aa0c0" points="186.41,186.50 183.61,180.60 189.21,180.60"/>
<polygon fill="#1aa0c0" points="192.28,189.91 189.48,184.01 195.08,184.01"/>
<polygon fill="#1aa0c0" points="198.14,193.37 195.34,187.47 200.94,187.47"/>
<polygon fill="#1aa0c0" points="204.00,198.15 201.20,192.25 206.80,192.25"/>
<polygon fill="#1aa0c0" points="209.86,200.35 207.06,194.45 212.66,194.45"/>
<polygon fill="#1aa0c0" points="215.73,202.56 212.93,196.66 218.53,196.66"/>
<polygon fill="#1aa0c0" points="221.59,205.40 218.79,199.50 224.39,199.50"/>
<polygon fill="#1aa0c0" points="227.45,207.29 224.65,201.39 230.25,201.39"/>
<polygon fill="#1aa0c0" points="233.32,213.57 230.52,207.67 236.12,207.67"/>
<polygon fill="#1aa0c0" points="239.18,216.28 236.38,210.38 241.98,210.38"/>
<polygon fill="#1aa0c0" points="245.04,217.98 242.24,212.08 247.84,212.08"/>
<polygon fill="#1aa0c0" points="250.91,221.27 248.11,215.37 253.71,215.37"/>
<polygon fill="#1aa0c0" points="256.77,223.48 253.97,217.58 259.57,217.58"/>
<polygon fill="#1aa0c0" points="262.63,225.58 259.83,219.68 265.43,219.68"/>
<polygon fill="#1aa0c0" points="268.49,227.68 265.69,221.78 271.29,221.78"/>
<polygon fill="#1aa0c0" points="274.36,231.24 271.56,225.34 277.16,225.34"/>
<polygon fill="#1aa0c0" points="280.22,233.65 277.42,227.75 283.02,227.75"/>
<polygon fill="#1aa0c0" points="286.08,235.45 283.28,229.55 288.88,229.55"/>
<polygon fill="#1aa0c0" points="291.95,235.75 289.15,229.85 294.75,229.85"/>
<polygon fill="#1aa0c0" points="297.81,239.33 295.01,233.43 300.61,233.43"/>
<polygon fill="#1aa0c0" points="303.67,241.12 300.87,235.22 306.47,235.22"/>
<polygon fill="#1aa0c0" points="309.54,243.23 306.74,237.33 312.34,237.33"/>
<polygon fill="#1aa0c0" points="315.40,243.43 312.60,237.53 318.20,237.53"/>
<polygon fill="#1aa0c0" points="321.26,246.35 318.46,240.45 324.06,240.45"/>
<polygon fill="#1aa0c0" points="327.12,249.81 324.32,243.91 329.92,243.91"/>
<polygon fill="#1aa0c0" points="332.99,251.66 330.19,245.76 335.79,245.76"/>
<polygon fill="#1aa0c0" points="338.85,251.26 336.05,245.36 341.65,245.36"/>
<polygon fill="#1aa0c0" points="344.71,255.22 341.91,249.32 347.51,249.32"/>
<polygon fill="#1aa0c0" points="350.58,255.38 347.78,249.48 353.38,249.48"/>
<polygon fill="#1aa0c0" points="356.44,257.11 353.64,251.21 359.24,251.21"/>
<polygon fill="#1aa0c0" points="362.30,260.54 359.50,254.64 365.10,254.64"/>
<polygon fill="#ff0000" points="75.02,117.76 77.02,120.96 75.02,124.16 73.02,120.96"/>
<polygon fill="#ff0000" points="80.88,104.00 82.88,107.20 80.88,110.40 78.88,107.20"/>
<polygon fill="#ff0000" points="86.74,109.31 88.74,112.51 86.74,115.71 84.74,112.51"/>
<polygon fill="#ff0000" points="92.60,115.20 94.60,118.40 92.60,121.60 90.60,118.40"/>
<polygon fill="#ff0000" points="98.47,120.05 100.47,123.25 98.47,126.45 96.47,123.25"/>
<polygon fill="#ff0000" points="104.33,124.85 106.33,128.05 104.33,131.25 102.33,128.05"/>
<polygon fill="#ff0000" points="110.19,129.51 112.19,132.71 110.19,135.91 108.19,132.71"/>
<polygon fill="#ff0000" points="116.06,133.46 118.06,136.66 116.06,139.86 114.06,136.66"/>
<polygon fill="#ff0000" points="121.92,138.12 123.92,141.32 121.92,144.52 119.92,141.32"/>
<polygon fill="#ff0000" points="127.78,141.34 129.78,144.54 127.78,147.74 125.78,144.54"/>
<polygon fill="#ff0000" points="133.65,144.49 135.65,147.69 133.65,150.89 131.65,147.69"/>
<polygon fill="#ff0000" points="139.51,148.40 141.51,151.60 139.51,154.80 137.51,151.60"/>
<polygon fill="#ff0000" points="145.37,151.44 147.37,154.64 145.37,157.84 143.37,154.64"/>
<polygon fill="#ff0000" points="151.23,155.97 153.23,159.17 151.23,162.37 149.23,159.17"/>
<polygon fill="#ff0000" points="157.10,157.44 159.10,160.64 157.10,163.84 155.10,160.64"/>
<polygon fill="#ff0000" points="162.96,159.62 164.96,162.82 162.96,166.02 160.96,162.82"/>
<polygon fill="#ff0000" points="168.82,165.51 170.82,168.71 168.82,171.91 166.82,168.71"/>
<polygon fill="#ff0000" points="174.69,165.38 176.69,168.58 174.69,171.78 172.69,168.58"/>
<polygon fill="#ff0000" points="180.55,167.71 182.55,170.91 180.55,174.11 178.55,170.91"/>
<polygon fill="#ff0000" points="186.41,170.53 188.41,173.73 186.41,176.93 184.41,173.73"/>
<polygon fill="#ff0000" points="192.28,171.47 194.28,174.67 192.28,177.87 190.28,174.67"/>
<polygon fill="#ff0000" points="198.14,173.79 200.14,176.99 198.14,180.19 196.14,176.99"/>
<polygon fill="#ff0000" points="204.00,177.83 206.00,181.03 204.00,184.23 202.00,181.03"/>
<polygon fill="#ff0000" points="209.86,178.47 211.86,181.67 209.86,184.87 207.86,181.67"/>
<polygon fill="#ff0000" points="215.73,179.94 217.73,183.14 215.73,186.34 213.73,183.14"/>
<polygon fill="#ff0000" points="221.59,181.75 223.59,184.95 221.59,188.15 219.59,184.95"/>
<polygon fill="#ff0000" points="227.45,183.70 229.45,186.90 227.45,190.10 225.45,186.90"/>
<polygon fill="#ff0000" points="233.32,187.41 235.32,190.61 233.32,193.81 231.32,190.61"/>
<polygon fill="#ff0000" points="239.18,189.75 241.18,192.95 239.18,196.15 237.18,192.95"/>
<polygon fill="#ff0000" points="245.04,191.85 247.04,195.05 245.04,198.25 243.04,195.05"/>
<polygon fill="#ff0000" points="250.91,193.40 252.91,196.60 250.91,199.80 248.91,196.60"/>
<polygon fill="#ff0000" points="256.77,195.39 258.77,198.59 256.77,201.79 254.77,198.59"/>
<polygon fill="#ff0000" points="262.63,195.56 264.63,198.76 262.63,201.96 260.63,198.76"/>
<polygon fill="#ff0000" points="268.49,197.11 270.49,200.31 268.49,203.51 266.49,200.31"/>
<polygon fill="#ff0000" points="274.36,201.62 276.36,204.82 274.36,208.02 272.36,204.82"/>
<polygon fill="#ff0000" points="280.22,199.90 282.22,203.10 280.22,206.30 278.22,203.10"/>
<polygon fill="#ff0000" points="286.08,201.98 288.08,205.18 286.08,208.38 284.08,205.18"/>
<polygon fill="#ff0000" points="291.95,204.30 293.95,207.50 291.95,210.70 289.95,207.50"/>
<polygon fill="#ff0000" points="297.81,204.32 299.81,207.52 297.81,210.72 295.81,207.52"/>
<polygon fill="#ff0000" points="303.67,208.04 305.67,211.24 303.67,214.44 301.67,211.24"/>
<polygon fill="#ff0000" points="309.54,207.95 311.54,211.15 309.54,214.35 307.54,211.15"/>
<polygon fill="#ff0000" points="315.40,207.78 317.40,210.98 315.40,214.18 313.40,210.98"/>
<polygon fill="#ff0000" points="321.26,210.89 323.26,214.09 321.26,217.29 319.26,214.09"/>
<polygon fill="#ff0000" points="327.12,210.04 329.12,213.24 327.12,216.44 325.12,213.24"/>
<polygon fill="#ff0000" points="332.99,213.05 334.99,216.25 332.99,219.45 330.99,216.25"/>
<polygon fill="#ff0000" points="338.85,215.30 340.85,218.50 338.85,221.70 336.85,218.50"/>
<polygon fill="#ff0000" points="344.71,217.15 346.71,220.35 344.71,223.55 342.71,220.35"/>
<polygon fill="#ff0000" points="350.58,219.15 352.58,222.35 350.58,225.55 348.58,222.35"/>
<polygon fill="#ff0000" points="356.44,220.03 358.44,223.23 356.44,226.43 354.44,223.23"/>
<polygon fill="#ff0000" points="362.30,221.71 364.30,224.91 362.30,228.11 360.30,224.91"/>
</g>
<g stroke="#000" stroke-width="1" fill="none" shape-rendering="crispEdges">
<rect x="45.5" y="17.5" width="326.0" height="299.8"/>
<rect x="45.5" y="317.2" width="326.0" height="160.2"/>
</g>
<path d="M45.70 17.50L45.70 26.00 M45.70 317.25L45.70 308.75 M45.70 317.25L45.70 321.85 M45.70 477.50L45.70 472.90 M75.02 17.50L75.02 21.50 M75.02 317.25L75.02 313.25 M75.02 317.25L75.02 319.75 M75.02 477.50L75.02 475.00 M104.33 17.50L104.33 21.50 M104.33 317.25L104.33 313.25 M104.33 317.25L104.33 319.75 M104.33 477.50L104.33 475.00 M133.65 17.50L133.65 21.50 M133.65 317.25L133.65 313.25 M133.65 317.25L133.65 319.75 M133.65 477.50L133.65 475.00 M162.96 17.50L162.96 26.00 M162.96 317.25L162.96 308.75 M162.96 317.25L162.96 321.85 M162.96 477.50L162.96 472.90 M192.28 17.50L192.28 21.50 M192.28 317.25L192.28 313.25 M192.28 317.25L192.28 319.75 M192.28 477.50L192.28 475.00 M221.59 17.50L221.59 21.50 M221.59 317.25L221.59 313.25 M221.59 317.25L221.59 319.75 M221.59 477.50L221.59 475.00 M250.91 17.50L250.91 21.50 M250.91 317.25L250.91 313.25 M250.91 317.25L250.91 319.75 M250.91 477.50L250.91 475.00 M280.22 17.50L280.22 26.00 M280.22 317.25L280.22 308.75 M280.22 317.25L280.22 321.85 M280.22 477.50L280.22 472.90 M309.54 17.50L309.54 21.50 M309.54 317.25L309.54 313.25 M309.54 317.25L309.54 319.75 M309.54 477.50L309.54 475.00 M338.85 17.50L338.85 21.50 M338.85 317.25L338.85 313.25 M338.85 317.25L338.85 319.75 M338.85 477.50L338.85 475.00 M368.17 17.50L368.17 21.50 M368.17 317.25L368.17 313.25 M368.17 317.25L368.17 319.75 M368.17 477.50L368.17 475.00 M45.50 315.98L51.20 315.98 M371.50 315.98L365.80 315.98 M45.50 311.12L51.20 311.12 M371.50 311.12L365.80 311.12 M45.50 307.01L51.20 307.01 M371.50 307.01L365.80 307.01 M45.50 303.45L51.20 303.45 M371.50 303.45L365.80 303.45 M45.50 300.31L51.20 300.31 M371.50 300.31L365.80 300.31 M45.50 297.50L56.50 297.50 M371.50 297.50L360.50 297.50 M45.50 279.02L51.20 279.02 M371.50 279.02L365.80 279.02 M45.50 268.20L51.20 268.20 M371.50 268.20L365.80 268.20 M45.50 260.53L51.20 260.53 M371.50 260.53L365.80 260.53 M45.50 254.58L51.20 254.58 M371.50 254.58L365.80 254.58 M45.50 249.72L51.20 249.72 M371.50 249.72L365.80 249.72 M45.50 245.61L51.20 245.61 M371.50 245.61L365.80 245.61 M45.50 242.05L51.20 242.05 M371.50 242.05L365.80 242.05 M45.50 238.91L51.20 238.91 M371.50 238.91L365.80 238.91 M45.50 236.10L56.50 236.10 M371.50 236.10L360.50 236.10 M45.50 217.62L51.20 217.62 M371.50 217.62L365.80 217.62 M45.50 206.80L51.20 206.80 M371.50 206.80L365.80 206.80 M45.50 199.13L51.20 199.13 M371.50 199.13L365.80 199.13 M45.50 193.18L51.20 193.18 M371.50 193.18L365.80 193.18 M45.50 188.32L51.20 188.32 M371.50 188.32L365.80 188.32 M45.50 184.21L51.20 184.21 M371.50 184.21L365.80 184.21 M45.50 180.65L51.20 180.65 M371.50 180.65L365.80 180.65 M45.50 177.51L51.20 177.51 M371.50 177.51L365.80 177.51 M45.50 174.70L56.50 174.70 M371.50 174.70L360.50 174.70 M45.50 156.22L51.20 156.22 M371.50 156.22L365.80 156.22 M45.50 145.40L51.20 145.40 M371.50 145.40L365.80 145.40 M45.50 137.73L51.20 137.73 M371.50 137.73L365.80 137.73 M45.50 131.78L51.20 131.78 M371.50 131.78L365.80 131.78 M45.50 126.92L51.20 126.92 M371.50 126.92L365.80 126.92 M45.50 122.81L51.20 122.81 M371.50 122.81L365.80 122.81 M45.50 119.25L51.20 119.25 M371.50 119.25L365.80 119.25 M45.50 116.11L51.20 116.11 M371.50 116.11L365.80 116.11 M45.50 113.30L56.50 113.30 M371.50 113.30L360.50 113.30 M45.50 94.82L51.20 94.82 M371.50 94.82L365.80 94.82 M45.50 84.00L51.20 84.00 M371.50 84.00L365.80 84.00 M45.50 76.33L51.20 76.33 M371.50 76.33L365.80 76.33 M45.50 70.38L51.20 70.38 M371.50 70.38L365.80 70.38 M45.50 65.52L51.20 65.52 M371.50 65.52L365.80 65.52 M45.50 61.41L51.20 61.41 M371.50 61.41L365.80 61.41 M45.50 57.85L51.20 57.85 M371.50 57.85L365.80 57.85 M45.50 54.71L51.20 54.71 M371.50 54.71L365.80 54.71 M45.50 51.90L56.50 51.90 M371.50 51.90L360.50 51.90 M45.50 33.42L51.20 33.42 M371.50 33.42L365.80 33.42 M45.50 22.60L51.20 22.60 M371.50 22.60L365.80 22.60 M45.50 458.20L52.50 458.20 M371.50 458.20L364.50 458.20 M45.50 442.31L50.00 442.31 M371.50 442.31L367.00 442.31 M45.50 428.88L50.00 428.88 M371.50 428.88L367.00 428.88 M45.50 417.24L50.00 417.24 M371.50 417.24L367.00 417.24 M45.50 406.98L50.00 406.98 M371.50 406.98L367.00 406.98 M45.50 397.80L52.50 397.80 M371.50 397.80L364.50 397.80 M45.50 389.49L50.00 389.49 M371.50 389.49L367.00 389.49 M45.50 381.91L50.00 381.91 M371.50 381.91L367.00 381.91 M45.50 374.94L50.00 374.94 M371.50 374.94L367.00 374.94 M45.50 368.48L50.00 368.48 M371.50 368.48L367.00 368.48 M45.50 362.47L51.50 362.47 M371.50 362.47L365.50 362.47 M45.50 356.84L50.00 356.84 M371.50 356.84L367.00 356.84 M45.50 351.56L50.00 351.56 M371.50 351.56L367.00 351.56 M45.50 346.58L50.00 346.58 M371.50 346.58L367.00 346.58 M45.50 341.87L50.00 341.87 M371.50 341.87L367.00 341.87 M45.50 337.40L52.50 337.40 M371.50 337.40L364.50 337.40 M45.50 333.15L50.00 333.15 M371.50 333.15L367.00 333.15 M45.50 329.09L50.00 329.09 M371.50 329.09L367.00 329.09 M45.50 325.22L50.00 325.22 M371.50 325.22L367.00 325.22 M45.50 321.51L50.00 321.51 M371.50 321.51L367.00 321.51" stroke="#000" stroke-width="1" fill="none"/>
<rect x="73.70" y="221.20" width="5.6" height="5.6" fill="#000"/>
<line x1="64" y1="237.0" x2="88" y2="237.0" stroke="#4a9a22" stroke-width="1.2" stroke-dasharray="2,2.5"/>
<rect x="73.50" y="234.25" width="6" height="5.5" fill="#fff" stroke="#4a9a22" stroke-width="1.2"/>
<line x1="64" y1="250.1" x2="88" y2="250.1" stroke="#3333ee" stroke-width="1.4"/>
<polygon fill="#0000e0" points="76.50,247.00 73.70,252.90 79.30,252.90"/>
<line x1="64" y1="263.1" x2="88" y2="263.1" stroke="#33aad0" stroke-width="1.4" stroke-dasharray="4,2,1,2"/>
<polygon fill="#1aa0c0" points="76.50,266.20 73.70,260.30 79.30,260.30"/>
<line x1="64" y1="276.0" x2="88" y2="276.0" stroke="#ff0000" stroke-width="1.2" stroke-dasharray="1,1.5"/>
<polygon fill="#ff0000" points="76.50,272.80 78.50,276.00 76.50,279.20 74.50,276.00"/>
<text x="93.80" y="227.10" font-size="9.5" text-anchor="start" fill="#000" font-family="Liberation Sans, sans-serif" >ATLAS</text>
<text x="93.80" y="239.90" font-size="9.5" text-anchor="start" fill="#000" font-family="Liberation Sans, sans-serif" >Herwig 7.2.1 default</text>
<text x="93.80" y="253.00" font-size="9.5" text-anchor="start" fill="#000" font-family="Liberation Sans, sans-serif" >Pythia 8.315 default</text>
<text x="93.80" y="266.00" font-size="9.5" text-anchor="start" fill="#000" font-family="Liberation Sans, sans-serif" >Pythia 8.315 vincia-default</text>
<text x="93.80" y="278.90" font-size="9.5" text-anchor="start" fill="#000" font-family="Liberation Sans, sans-serif" >Sherpa 2.2.9 default</text>
<text x="51.90" y="14.30" font-size="12" text-anchor="start" fill="#000" font-family="Liberation Sans, sans-serif" >13000 GeV pp</text>
<text x="365.00" y="14.30" font-size="12" text-anchor="end" fill="#000" font-family="Liberation Sans, sans-serif" >Z+Jet</text>
<text x="87.7" y="41.8" font-size="12" font-family="Liberation Sans, sans-serif">Toward region, 80 &lt; p</text>
<text x="203.9" y="36.5" font-size="8" font-family="Liberation Sans, sans-serif">Z</text>
<text x="202.4" y="48.6" font-size="8" font-family="Liberation Sans, sans-serif">T</text>
<text x="212.2" y="41.8" font-size="12" font-family="Liberation Sans, sans-serif">&lt; 120 [GeV], inclusive</text>
<text x="40.10" y="56.00" font-size="11" text-anchor="end" fill="#000" font-family="Liberation Sans, sans-serif" >10</text>
<text x="40.10" y="117.20" font-size="11" text-anchor="end" fill="#000" font-family="Liberation Sans, sans-serif" >1</text>
<text x="33.40" y="180.30" font-size="10.6" text-anchor="end" font-family="Liberation Sans, sans-serif">10</text>
<text x="33.20" y="175.90" font-size="7" font-family="Liberation Sans, sans-serif">&#8722;1</text>
<text x="31.20" y="241.70" font-size="10.6" text-anchor="end" font-family="Liberation Sans, sans-serif">10</text>
<text x="31.20" y="237.30" font-size="7" font-family="Liberation Sans, sans-serif">&#8722;2</text>
<text x="31.20" y="303.10" font-size="10.6" text-anchor="end" font-family="Liberation Sans, sans-serif">10</text>
<text x="31.20" y="298.70" font-size="7" font-family="Liberation Sans, sans-serif">&#8722;3</text>
<text x="38.50" y="341.40" font-size="11" text-anchor="end" fill="#000" font-family="Liberation Sans, sans-serif" >2</text>
<text x="374.00" y="341.40" font-size="11" text-anchor="start" fill="#000" font-family="Liberation Sans, sans-serif" >2</text>
<text x="38.50" y="401.80" font-size="11" text-anchor="end" fill="#000" font-family="Liberation Sans, sans-serif" >1</text>
<text x="374.00" y="401.80" font-size="11" text-anchor="start" fill="#000" font-family="Liberation Sans, sans-serif" >1</text>
<text x="38.50" y="462.20" font-size="11" text-anchor="end" fill="#000" font-family="Liberation Sans, sans-serif" >0.5</text>
<text x="374.00" y="462.20" font-size="11" text-anchor="start" fill="#000" font-family="Liberation Sans, sans-serif" >0.5</text>
<text x="45.70" y="489.00" font-size="11" text-anchor="middle" fill="#000" font-family="Liberation Sans, sans-serif" >0</text>
<text x="162.96" y="489.00" font-size="11" text-anchor="middle" fill="#000" font-family="Liberation Sans, sans-serif" >2</text>
<text x="280.22" y="489.00" font-size="11" text-anchor="middle" fill="#000" font-family="Liberation Sans, sans-serif" >4</text>
<text x="370.2" y="500.7" font-size="12.3" text-anchor="end" font-family="Liberation Sans, sans-serif">Mean p<tspan font-size="8.5" dy="7.2" dx="0.6">T</tspan><tspan dy="-7.2">/d&#951; d&#981;</tspan></text>
<text transform="translate(14.8,167.0) rotate(-90)" font-size="11.8" font-family="Liberation Sans, sans-serif">1/N<tspan font-size="8.5" dy="3.3">ev</tspan><tspan dy="-3.3"> dN</tspan><tspan font-size="8.5" dy="3.3">ev</tspan><tspan dy="-3.3">/d mean p</tspan><tspan font-size="8.5" dy="3.6">T</tspan><tspan dy="-3.6"> [GeV]</tspan><tspan font-size="8" dy="-4.5" dx="0.3">1</tspan></text>
<text transform="translate(17.6,429.0) rotate(-90)" font-size="9.3" font-family="Liberation Sans, sans-serif">Ratio to ATLAS</text>
<text transform="translate(380,127.2) rotate(-90)" font-size="9.4" fill="#999" font-family="Liberation Sans, sans-serif">Rivet 4.1.0, &#8805; 2.9M events</text>
<text transform="translate(380.3,313.2) rotate(-90)" font-size="9.4" fill="#999" font-family="Liberation Sans, sans-serif">mcplots.cern.ch [arXiv:2401.10821]</text>
<text x="162.80" y="302.20" font-size="8" text-anchor="start" fill="#999" font-family="Liberation Sans, sans-serif" >(ATLAS_2019_I1736531)</text>
</svg></body></html>
